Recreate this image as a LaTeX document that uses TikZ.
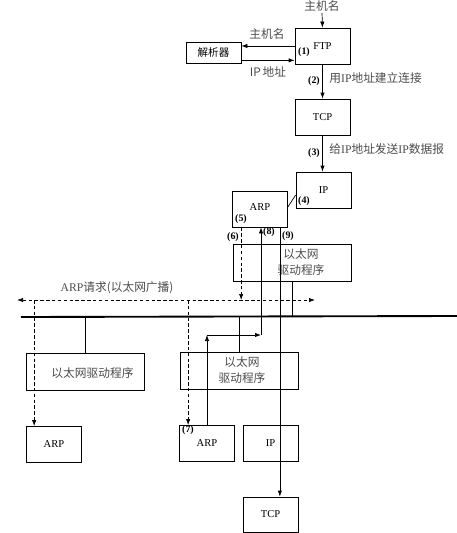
\documentclass[tikz,border=0pt]{standalone}
\usepackage{fontspec}
\setmainfont{Liberation Serif}
\newfontfamily\cjk{Noto Sans CJK SC}
\usetikzlibrary{positioning, arrows.meta, calc}

\begin{document}
\begin{tikzpicture}[
  x=0.03cm, y=-0.03cm,
  font=\fontsize{9}{11}\selectfont,
  box/.style={draw, line width=0.6pt, minimum width=16.5mm, minimum height=10.8mm,
              inner sep=0pt},
  drvbox/.style={box, minimum width=35.4mm, minimum height=11.1mm},
  resbox/.style={box, minimum height=6.3mm},
  zh/.style={font=\fontsize{10}{13}\selectfont\cjk, text=black!70, inner sep=1pt, align=center},
  stepno/.style={font=\fontsize{8.5}{10}\selectfont\bfseries, inner sep=0pt},
  arrow/.style={-{Latex[length=1.8mm, width=1.3mm]}, line width=0.6pt},
  dasharrow/.style={arrow, dashed, dash pattern=on 3pt off 2pt},
  wire/.style={line width=0.6pt},
]
\useasboundingbox (0,0) rectangle (457,533);

% upper host
\node[zh] (hostname) at (322,6) {主机名};
\node[box] (ftp) at (322.5,46) {FTP};
\node[resbox] (res) at (213.5,52.5) {\cjk 解析器};
\node[box] (tcp1) at (322.5,117) {TCP};
\node[box] (ip1) at (323.5,190) {IP};
\node[box] (arp1) at (260,209) {};
\node at (260,207) (arp1text) {ARP};
\node[drvbox] (drv1) at (292.5,262.5) {};
\node[zh] (drv1text) at (301,262) {以太网\\驱动程序};

% other hosts
\node[drvbox] (drv2) at (85.5,372) {};
\node[zh] (drv2text) at (92.5,373) {以太网驱动程序};
\node[box] (arp2) at (54,444.5) {ARP};
\node[drvbox] (drv3) at (239,370.5) {};
\node[zh] (drv3text) at (242,370) {以太网\\驱动程序};
\node[box] (arp3) at (207,443.5) {ARP};
\node[box] (ip2) at (270.5,443) {IP};
\node[box, minimum height=10.5mm] (tcp2) at (270.5,514.5) {TCP};

% labels
\node[zh] (lblhost) at (267,34) {主机名};
\node[zh] (lblip) at (268,72) {IP\,{\cjk 地址}};
\node[zh, anchor=west] (lblconn) at (328,78) {用{\rmfamily IP}地址建立连接};
\node[zh, anchor=west] (lblsend) at (328,149) {给{\rmfamily IP}地址发送{\rmfamily IP}数据报};
\node[zh] (lblbcast) at (117,288) {{\rmfamily ARP}请求(以太网广播)};
\node[stepno] (s1) at (304,52) {(1)};
\node[stepno] (s2) at (314,81) {(2)};
\node[stepno] (s3) at (314,153) {(3)};
\node[stepno] (s4) at (304,201) {(4)};
\node[stepno] (s5) at (241,219) {(5)};
\node[stepno] (s6) at (233,237) {(6)};
\node[stepno] (s7) at (188,430) {(7)};
\node[stepno] (s8) at (269,232) {(8)};
\node[stepno] (s9) at (288,236) {(9)};

% cable and broadcast
\coordinate (cabL) at (21,317);
\coordinate (cabR) at (457,316);
\coordinate (bcL) at (17,300);
\coordinate (bcR) at (315,300);
\coordinate (resout) at ($(res.south east)+(0,-3)$);
\coordinate (c6) at ($(arp1.south west)+(9,0)$);
\coordinate (c9) at ($(arp1.south east)+(-8,0)$);
\coordinate (d2) at ($(arp2.north west)+(8,0)$);
\coordinate (d3) at ($(arp3.north west)+(9,0)$);
\coordinate (c8a) at (207,335);
\coordinate (c8b) at (261,335);
\draw[line width=1.6pt] (cabL) -- (cabR);

% connectors
\draw[arrow] (hostname.south) -- (ftp.north);
\draw[arrow] (ftp.west) -- (ftp.west -| res.east);
\draw[arrow] (resout) -- (resout -| ftp.west);
\draw[arrow] (ftp.south) -- (tcp1.north);
\draw[arrow] (tcp1.south) -- (tcp1.south |- ip1.north);
\draw[wire] ($(arp1.east)+(0,-2)$) -- ($(ip1.west)+(0,5)$);

\draw[dasharrow] (c6) -- (c6 |- bcL);
\draw[dasharrow, {Latex[length=1.8mm, width=1.3mm]}-{Latex[length=1.8mm, width=1.3mm]}] (bcL) -- (bcR);
\draw[dasharrow] (d2 |- bcL) -- (d2);
\draw[dasharrow] (d3 |- bcL) -- (d3);

\draw[wire] (drv1.south) -- (drv1.south |- cabL);
\draw[wire] (drv2.north |- cabL) -- (drv2.north);
\draw[wire] (drv3.north |- cabL) -- (drv3.north);

\draw[arrow] (arp3.north -| c8a) -- (c8a);
\draw[arrow] (c8a) -- (c8b);
\draw[arrow] (c8b) -- (c8b |- arp1.south);
\draw[arrow] (c9) -- (c9 |- tcp2.north);
\end{tikzpicture}
\end{document}
